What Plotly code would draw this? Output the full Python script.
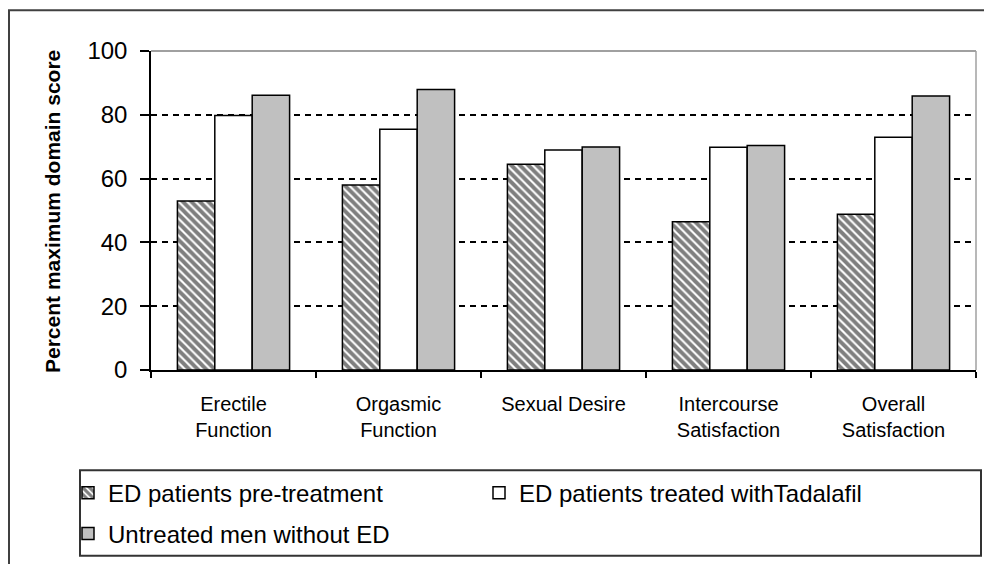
import plotly.graph_objects as go

categories = ["Erectile<br>Function", "Orgasmic<br>Function", "Sexual Desire",
              "Intercourse<br>Satisfaction", "Overall<br>Satisfaction"]
pre_treatment = [53, 58, 64.5, 46.5, 48.8]
tadalafil = [79.8, 75.5, 69, 69.8, 73]
untreated = [86.1, 87.9, 69.9, 70.4, 85.9]
series_names = ["ED patients pre-treatment", "ED patients treated withTadalafil",
                "Untreated men without ED"]
y_ticks = [0, 20, 40, 60, 80, 100]
y_title = "Percent maximum domain score"

W, H = 984, 564
L, R, T, B = 151, 8, 51, 192
PW, PH = W - L - R, H - T - B


def px_x(p):
    return (p - L) / PW


def px_y(p):
    return (H - B - p) / PH


FONT = "Liberation Sans, Arial, sans-serif"
line = dict(color="black", width=1.5)

fig = go.Figure()
fig.add_trace(go.Bar(
    x=categories, y=pre_treatment, name=series_names[0],
    marker=dict(color="white", line=line,
                pattern=dict(shape="\\", fgcolor="black", bgcolor="white",
                             size=6, solidity=0.65)),
    legend="legend"))
fig.add_trace(go.Bar(
    x=categories, y=tadalafil, name=series_names[1],
    marker=dict(color="white", line=line), legend="legend"))
fig.add_trace(go.Bar(
    x=categories, y=untreated, name=series_names[2],
    marker=dict(color="#c0c0c0", line=line), legend="legend2"))

fig.update_layout(
    width=W, height=H,
    margin=dict(l=L, r=R, t=T, b=B, pad=0),
    paper_bgcolor="white", plot_bgcolor="white",
    barmode="group", bargap=0.32, bargroupgap=0,
    font=dict(family=FONT, color="black"),
    legend=dict(orientation="h", x=px_x(68), xanchor="left",
                y=px_y(496), yanchor="middle", entrywidth=366,
                font=dict(size=24, family=FONT), bgcolor="rgba(0,0,0,0)",
                borderwidth=0, traceorder="normal"),
    legend2=dict(orientation="h", x=px_x(68), xanchor="left",
                 y=px_y(537), yanchor="middle",
                 font=dict(size=24, family=FONT), bgcolor="rgba(0,0,0,0)",
                 borderwidth=0),
)

fig.update_xaxes(
    type="category", showline=True, linecolor="black", linewidth=1.5,
    ticks="outside", tickson="boundaries", ticklen=6, tickcolor="black",
    tickwidth=1.5, showgrid=False, tickfont=dict(size=20, family=FONT),
    ticklabelstandoff=15)
fig.update_yaxes(
    range=[0, 100], tickvals=y_ticks, showline=True, linecolor="black",
    linewidth=1.5, ticks="outside", ticklen=9, tickcolor="black",
    tickwidth=1.5, showgrid=True, gridcolor="black", gridwidth=1.5,
    griddash="6px,5px", zeroline=False, tickfont=dict(size=24, family=FONT),
    ticklabelstandoff=8)

fig.add_annotation(
    text="<b>" + y_title + "</b>", textangle=-90, xref="paper", yref="paper",
    x=px_x(53), y=px_y(213), xanchor="center", yanchor="middle",
    showarrow=False, font=dict(size=21, family=FONT, color="black"))

# plot-area border (top & right) in grey
fig.add_shape(type="line", xref="paper", yref="paper", x0=0, x1=1, y0=1, y1=1,
              line=dict(color="#a0a0a0", width=2), layer="above")
fig.add_shape(type="line", xref="paper", yref="paper", x0=1, x1=1, y0=0, y1=1,
              line=dict(color="#a0a0a0", width=1.5), layer="above")
# legend box
fig.add_shape(type="rect", xref="paper", yref="paper",
              x0=px_x(80), x1=px_x(981), y0=px_y(473), y1=px_y(559),
              line=dict(color="#333333", width=2), layer="above")
# outer chart frame
fig.add_shape(type="rect", xref="paper", yref="paper",
              x0=px_x(9), x1=px_x(992), y0=px_y(10), y1=px_y(575),
              line=dict(color="#404040", width=2), layer="above")

fig.write_html("out.html", config={"displayModeBar": False},
               post_script="document.body.style.margin='0';"
                           "document.body.style.padding='0';")
